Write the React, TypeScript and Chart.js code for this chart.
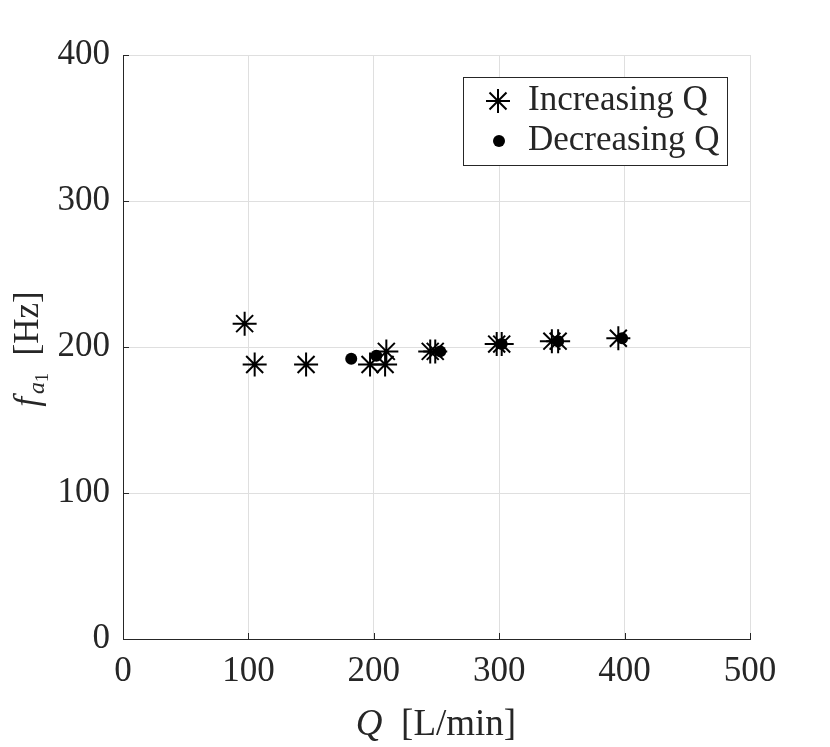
import { useEffect, useRef } from "react"
import { Chart, registerables, Plugin } from "chart.js"

Chart.register(...registerables)

// flow rate Q [L/min] and frequency f_a1 [Hz]
const increasingQ = [97, 105, 146, 197, 209, 210, 245, 249, 298, 302, 342, 347, 395]
const increasingF = [216, 188, 188, 188, 188, 197, 197, 197, 202, 202, 204, 204, 206]
const decreasingQ = [182, 202, 253, 302, 347, 398]
const decreasingF = [192, 194, 197, 202, 204, 206]

const xTicks = [0, 100, 200, 300, 400, 500]
const yTicks = [0, 100, 200, 300, 400]

const FONT = "Liberation Serif"
const INK = "#262626"

const insideTicks: Plugin = {
  id: "insideTicks",
  afterDraw(chart) {
    const { ctx, chartArea } = chart
    const x = chart.scales.x
    const y = chart.scales.y
    ctx.save()
    ctx.strokeStyle = INK
    ctx.lineWidth = 1
    ctx.beginPath()
    xTicks.forEach((v) => {
      const px = Math.round(x.getPixelForValue(v)) + 0.5
      ctx.moveTo(px, chartArea.bottom)
      ctx.lineTo(px, chartArea.bottom - 6)
    })
    yTicks.forEach((v) => {
      const py = Math.round(y.getPixelForValue(v)) + 0.5
      ctx.moveTo(chartArea.left, py)
      ctx.lineTo(chartArea.left + 6, py)
    })
    ctx.stroke()
    ctx.restore()
  },
}

const axisTitles: Plugin = {
  id: "axisTitles",
  afterDraw(chart) {
    const { ctx } = chart
    ctx.save()
    ctx.fillStyle = INK
    ctx.textBaseline = "alphabetic"

    // x title: Q [L/min]
    const xBig = `37px ${FONT}`
    const xBigItalic = `italic 37px ${FONT}`
    ctx.font = xBigItalic
    const qW = ctx.measureText("Q").width
    ctx.font = xBig
    const restW = ctx.measureText("  [L/min]").width
    const sx = 436 - (qW + restW) / 2
    ctx.font = xBigItalic
    ctx.fillText("Q", sx, 735)
    ctx.font = xBig
    ctx.fillText("  [L/min]", sx + qW, 735)

    // y title: f_{a_1} [Hz], rotated
    const big = `35px ${FONT}`
    const bigItalic = `italic 35px ${FONT}`
    ctx.translate(38, 349)
    ctx.rotate(-Math.PI / 2)
    const sub = `italic 24px ${FONT}`
    const subsub = `18px ${FONT}`
    ctx.font = bigItalic
    const fW = ctx.measureText("f").width
    ctx.font = sub
    const aW = ctx.measureText("a").width
    ctx.font = subsub
    const oneW = ctx.measureText("1").width
    ctx.font = big
    const hzW = ctx.measureText("  [Hz]").width
    const total = fW + 3 + aW + oneW + hzW
    let cx = -total / 2
    ctx.font = bigItalic
    ctx.fillText("f", cx, 0)
    cx += fW + 3
    ctx.font = sub
    ctx.fillText("a", cx, 6)
    cx += aW
    ctx.font = subsub
    ctx.fillText("1", cx, 10)
    cx += oneW
    ctx.font = big
    ctx.fillText("  [Hz]", cx, 0)
    ctx.restore()
  },
}

const boxLegend: Plugin = {
  id: "boxLegend",
  afterDraw(chart) {
    const { ctx } = chart
    ctx.save()
    ctx.fillStyle = "#ffffff"
    ctx.strokeStyle = INK
    ctx.lineWidth = 1
    ctx.fillRect(463.5, 77.5, 264, 88)
    ctx.strokeRect(463.5, 77.5, 264, 88)

    // star marker
    ctx.strokeStyle = "#000000"
    ctx.lineWidth = 2
    const sx = 498
    const sy = 101
    const r = 12
    const d = r * Math.SQRT1_2
    ctx.beginPath()
    ctx.moveTo(sx - r, sy)
    ctx.lineTo(sx + r, sy)
    ctx.moveTo(sx, sy - r)
    ctx.lineTo(sx, sy + r)
    ctx.moveTo(sx - d, sy - d)
    ctx.lineTo(sx + d, sy + d)
    ctx.moveTo(sx - d, sy + d)
    ctx.lineTo(sx + d, sy - d)
    ctx.stroke()

    // dot marker
    ctx.fillStyle = "#000000"
    ctx.beginPath()
    ctx.arc(499, 141, 6, 0, Math.PI * 2)
    ctx.fill()

    ctx.fillStyle = INK
    ctx.font = `35px ${FONT}`
    ctx.textBaseline = "alphabetic"
    const labels = chart.data.datasets.map((ds) => ds.label || "")
    ctx.fillText(labels[0], 528, 110)
    ctx.fillText(labels[1], 528, 150)
    ctx.restore()
  },
}

export default function App() {
  const canvasRef = useRef<HTMLCanvasElement | null>(null)
  const chartRef = useRef<Chart | null>(null)

  useEffect(() => {
    document.body.style.margin = "0"
    if (!canvasRef.current) return
    const ctx = canvasRef.current.getContext("2d")
    if (!ctx) return

    chartRef.current = new Chart(ctx, {
      type: "scatter",
      data: {
        datasets: [
          {
            label: "Increasing Q",
            data: increasingQ.map((q, i) => ({ x: q, y: increasingF[i] })),
            pointStyle: "star",
            pointRadius: 12,
            borderColor: "#000000",
            backgroundColor: "#000000",
            borderWidth: 2,
          },
          {
            label: "Decreasing Q",
            data: decreasingQ.map((q, i) => ({ x: q, y: decreasingF[i] })),
            pointStyle: "circle",
            pointRadius: 6,
            borderColor: "#000000",
            backgroundColor: "#000000",
            borderWidth: 0,
          },
        ],
      },
      options: {
        responsive: false,
        animation: false,
        layout: { padding: { top: 55, right: 80, left: 0, bottom: 0 } },
        plugins: {
          legend: { display: false },
          tooltip: { enabled: false },
        },
        scales: {
          x: {
            type: "linear",
            min: 0,
            max: 500,
            afterBuildTicks: (scale) => {
              scale.ticks = xTicks.map((v) => ({ value: v }))
            },
            afterFit: (scale) => {
              scale.height = 108
            },
            grid: { color: "#dfdfdf", drawTicks: false },
            border: { color: INK, width: 1 },
            ticks: {
              color: INK,
              padding: 12,
              maxRotation: 0,
              font: { family: FONT, size: 35 },
            },
          },
          y: {
            type: "linear",
            min: 0,
            max: 400,
            afterBuildTicks: (scale) => {
              scale.ticks = yTicks.map((v) => ({ value: v }))
            },
            afterFit: (scale) => {
              scale.width = 123
            },
            grid: { color: "#dfdfdf", drawTicks: false },
            border: { color: INK, width: 1 },
            ticks: {
              color: INK,
              padding: 13,
              font: { family: FONT, size: 35 },
            },
          },
        },
      },
      plugins: [insideTicks, axisTitles, boxLegend],
    })

    return () => {
      chartRef.current?.destroy()
    }
  }, [])

  return <canvas ref={canvasRef} width={830} height={747} style={{ display: "block" }} />
}
